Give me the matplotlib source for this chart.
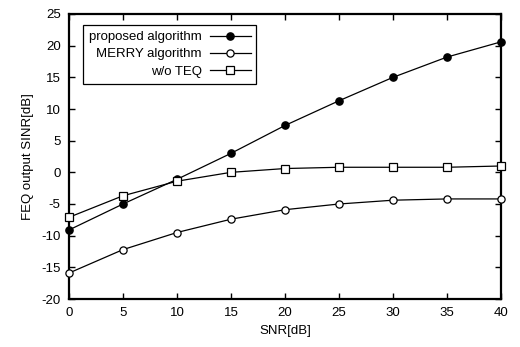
import matplotlib
matplotlib.use("Agg")
import matplotlib.pyplot as plt

plt.rcParams["font.family"] = ["Liberation Sans", "DejaVu Sans"]
plt.rcParams["axes.unicode_minus"] = False

snr = [0, 5, 10, 15, 20, 25, 30, 35, 40]
proposed = [-9.1, -5.0, -1.1, 3.0, 7.4, 11.3, 15.0, 18.2, 20.6]
merry = [-15.9, -12.2, -9.5, -7.4, -5.9, -5.0, -4.4, -4.2, -4.2]
no_teq = [-7.1, -3.7, -1.4, 0.0, 0.6, 0.8, 0.8, 0.8, 1.0]

labels = ["proposed algorithm", "MERRY algorithm", "w/o TEQ"]
x_ticks = [0, 5, 10, 15, 20, 25, 30, 35, 40]
y_ticks = [-20, -15, -10, -5, 0, 5, 10, 15, 20, 25]

fig = plt.figure(figsize=(5.2, 3.47), dpi=100)
ax = fig.add_axes((69 / 520, 1 - 299 / 347, 432 / 520, 285 / 347))

ax.plot(snr, proposed, color="black", lw=0.9, marker="o", ms=5.2,
        mfc="black", mec="black", clip_on=False, zorder=3, label=labels[0])
ax.plot(snr, merry, color="black", lw=0.9, marker="o", ms=5.2,
        mfc="white", mec="black", mew=0.9, clip_on=False, zorder=3, label=labels[1])
ax.plot(snr, no_teq, color="black", lw=0.9, marker="s", ms=5.8,
        mfc="white", mec="black", mew=0.9, clip_on=False, zorder=3, label=labels[2])

ax.set_xlim(0, 40)
ax.set_ylim(-20, 25)
ax.set_xticks(x_ticks)
ax.set_yticks(y_ticks)
ax.tick_params(direction="in", top=True, right=True, length=4, width=1,
               labelsize=9.5, pad=6)
for spine in ax.spines.values():
    spine.set_linewidth(1.6)

ax.set_xlabel("SNR[dB]", fontsize=9.5, labelpad=4)
ax.set_ylabel("FEQ output SINR[dB]", fontsize=9.5, labelpad=5)

leg = ax.legend(loc="upper left", bbox_to_anchor=(14 / 432, 1 - 11 / 285),
                borderaxespad=0, markerfirst=False, fontsize=9.5,
                handlelength=3.1, handletextpad=0.6, labelspacing=0.38,
                borderpad=0.45, fancybox=False, framealpha=1, edgecolor="black")
leg.get_frame().set_linewidth(0.9)

fig.savefig("out.png", dpi=100)
